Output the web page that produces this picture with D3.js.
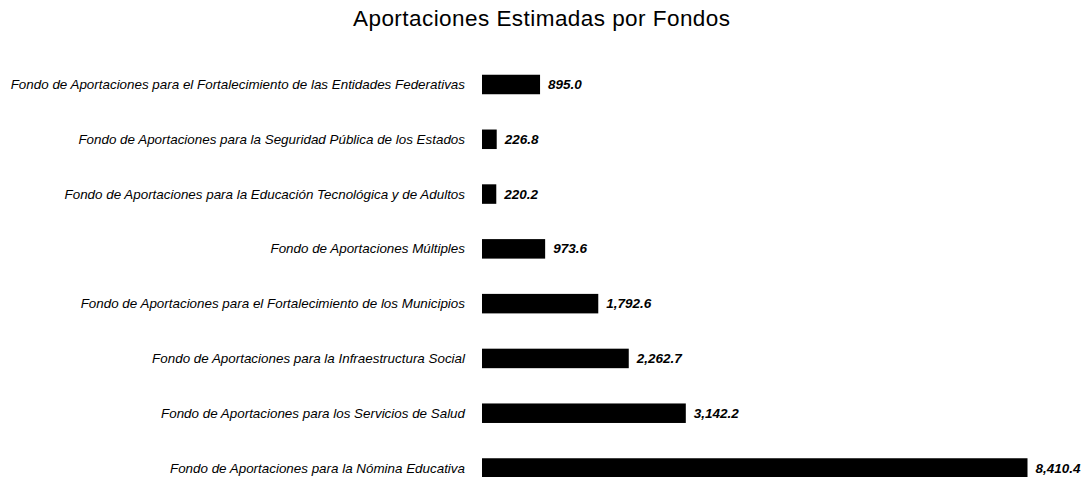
<!DOCTYPE html>
<html>
<head>
<meta charset="utf-8">
<script src="https://cdn.jsdelivr.net/npm/d3@7"></script>
<style>
  html, body { margin: 0; padding: 0; background: #fff; }
  svg { display: block; }
</style>
</head>
<body>
<svg id="chart" width="1084" height="477"></svg>
<script>
const title = "Aportaciones Estimadas por Fondos";
const categories = [
  "Fondo de Aportaciones para el Fortalecimiento de las Entidades Federativas",
  "Fondo de Aportaciones para la Seguridad Pública de los Estados",
  "Fondo de Aportaciones para la Educación Tecnológica y de Adultos",
  "Fondo de Aportaciones Múltiples",
  "Fondo de Aportaciones para el Fortalecimiento de los Municipios",
  "Fondo de Aportaciones para la Infraestructura Social",
  "Fondo de Aportaciones para los Servicios de Salud",
  "Fondo de Aportaciones para la Nómina Educativa"
];
const values = [895.0, 226.8, 220.2, 973.6, 1792.6, 2262.7, 3142.2, 8410.4];

const svg = d3.select("#chart");
const font = "'Liberation Sans', Arial, Helvetica, sans-serif";

const x = d3.scaleLinear().domain([0, 8410.4]).range([482, 1027.5]);
const y = d3.scaleBand().domain(categories).range([57.1, 495.4])
  .paddingInner(0.644).paddingOuter(0.322);

svg.append("text")
  .attr("x", 541.5).attr("y", 26)
  .attr("text-anchor", "middle")
  .attr("font-family", font)
  .attr("font-size", 22.5)
  .attr("textLength", 377).attr("lengthAdjust", "spacing")
  .attr("fill", "#000")
  .text(title);

const data = categories.map((c, i) => ({ c, v: values[i] }));

svg.selectAll("rect.bar").data(data).enter().append("rect")
  .attr("class", "bar")
  .attr("x", x(0))
  .attr("y", d => y(d.c))
  .attr("width", d => x(d.v) - x(0))
  .attr("height", y.bandwidth())
  .attr("fill", "#000");

svg.selectAll("text.cat").data(data).enter().append("text")
  .attr("class", "cat")
  .attr("x", 465)
  .attr("y", d => y(d.c) + y.bandwidth() / 2 + 4.5)
  .attr("text-anchor", "end")
  .attr("font-family", font)
  .attr("font-style", "italic")
  .attr("font-size", 13.4)
  .attr("fill", "#000")
  .text(d => d.c);

const fmt = d3.format(",.1f");
svg.selectAll("text.val").data(data).enter().append("text")
  .attr("class", "val")
  .attr("x", d => x(d.v) + 8)
  .attr("y", d => y(d.c) + y.bandwidth() / 2 + 4.5)
  .attr("font-family", font)
  .attr("font-style", "italic")
  .attr("font-weight", "bold")
  .attr("font-size", 13.5)
  .attr("fill", "#000")
  .text(d => fmt(d.v));
</script>
</body>
</html>
